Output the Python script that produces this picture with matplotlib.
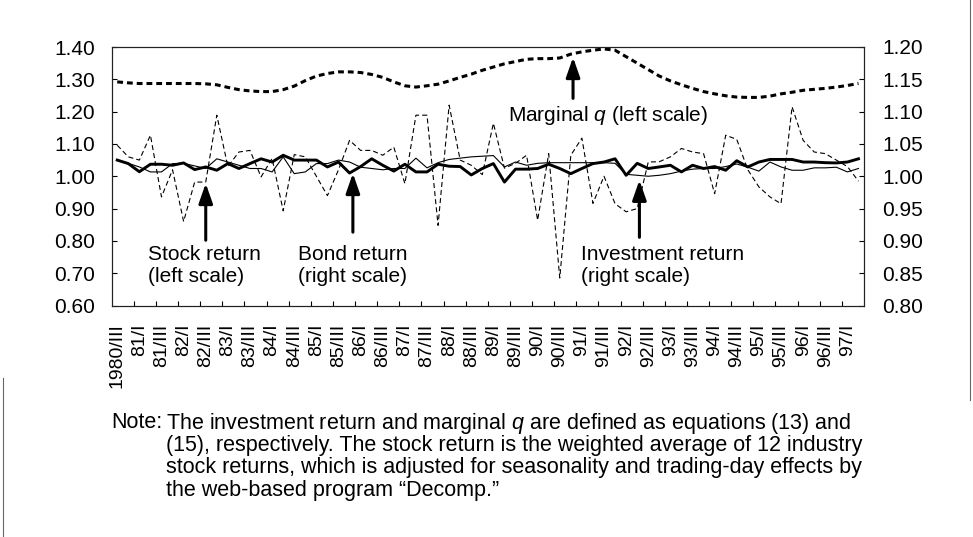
import numpy as np
import matplotlib
matplotlib.use("Agg")
import matplotlib.pyplot as plt
from matplotlib.lines import Line2D

plt.rcParams['font.family'] = ['Liberation Sans', 'DejaVu Sans']
plt.rcParams['mathtext.fontset'] = 'custom'
plt.rcParams['mathtext.it'] = 'Liberation Sans:italic'
plt.rcParams['mathtext.rm'] = 'Liberation Sans'

# quarterly data, 1980/III - 1997/II
marginal_q = [1.292, 1.289, 1.287, 1.287, 1.287, 1.287, 1.287, 1.287, 1.286, 1.283,
              1.275, 1.268, 1.264, 1.262, 1.262, 1.268, 1.279, 1.296, 1.310, 1.318,
              1.323, 1.323, 1.321, 1.315, 1.306, 1.292, 1.280, 1.276, 1.280, 1.285,
              1.295, 1.306, 1.316, 1.328, 1.338, 1.348, 1.355, 1.362, 1.364, 1.364,
              1.366, 1.378, 1.385, 1.390, 1.394, 1.390, 1.370, 1.350, 1.330, 1.310,
              1.295, 1.283, 1.272, 1.262, 1.255, 1.249, 1.245, 1.244, 1.244, 1.248,
              1.255, 1.260, 1.266, 1.269, 1.272, 1.276, 1.281, 1.287]

stock_return = [1.096, 1.060, 1.050, 1.127, 0.936, 1.020, 0.860, 0.982, 0.982, 1.189,
                1.030, 1.075, 1.080, 0.998, 1.055, 0.893, 1.067, 1.060, 1.000, 0.940,
                1.020, 1.111, 1.080, 1.080, 1.065, 1.090, 0.977, 1.189, 1.189, 0.848,
                1.220, 1.050, 1.034, 1.005, 1.164, 1.025, 1.040, 1.065, 0.864, 1.070,
                0.685, 1.065, 1.118, 0.916, 1.000, 0.915, 0.890, 0.900, 1.044, 1.045,
                1.060, 1.086, 1.075, 1.070, 0.946, 1.127, 1.114, 1.020, 0.967, 0.936,
                0.915, 1.215, 1.111, 1.075, 1.070, 1.050, 1.030, 0.985]

bond_return = [1.025, 1.0196, 1.007, 1.0186, 1.0186, 1.017, 1.0206, 1.0103, 1.0144, 1.0093,
               1.0196, 1.012, 1.0196, 1.027, 1.022, 1.0325, 1.025, 1.025, 1.025, 1.0144,
               1.022, 1.005, 1.015, 1.027, 1.017, 1.008, 1.0186, 1.0067, 1.0067, 1.0186,
               1.0155, 1.015, 1.002, 1.012, 1.0196, 0.991, 1.011, 1.011, 1.012, 1.0186,
               1.012, 1.004, 1.012, 1.0196, 1.022, 1.027, 1.0015, 1.020, 1.012, 1.0144,
               1.017, 1.0067, 1.017, 1.012, 1.015, 1.0093, 1.024, 1.0144, 1.022, 1.026,
               1.026, 1.026, 1.022, 1.022, 1.021, 1.0206, 1.022, 1.027]

invest_return = [1.025, 1.020, 1.0144, 1.0067, 1.0067, 1.0196, 1.020, 1.016, 1.012, 1.027,
                 1.022, 1.017, 1.012, 1.012, 1.0067, 1.030, 1.004, 1.0067, 1.0196, 1.0196,
                 1.025, 1.022, 1.014, 1.012, 1.010, 1.012, 1.012, 1.028, 1.013, 1.021,
                 1.026, 1.028, 1.030, 1.031, 1.032, 1.0144, 1.022, 1.017, 1.020, 1.021,
                 1.021, 1.021, 1.021, 1.021, 1.021, 1.020, 1.003, 1.0015, 1.000, 1.0015,
                 1.004, 1.008, 1.011, 1.012, 1.012, 1.015, 1.019, 1.014, 1.008, 1.022,
                 1.0144, 1.0093, 1.0093, 1.013, 1.013, 1.014, 1.0067, 1.012]

tick_labels = ['1980/III', '81/I', '81/III', '82/I', '82/III', '83/I', '83/III',
               '84/I', '84/III', '85/I', '85/III', '86/I', '86/III', '87/I', '87/III',
               '88/I', '88/III', '89/I', '89/III', '90/I', '90/III', '91/I', '91/III',
               '92/I', '92/III', '93/I', '93/III', '94/I', '94/III', '95/I', '95/III',
               '96/I', '96/III', '97/I']

note_lines = ['The investment return and marginal $q$ are defined as equations (13) and',
              '(15), respectively. The stock return is the weighted average of 12 industry',
              'stock returns, which is adjusted for seasonality and trading-day effects by',
              'the web-based program \u201cDecomp.\u201d']

W, H = 973, 537
fig = plt.figure(figsize=(W / 100, H / 100), dpi=100)
ax = fig.add_axes([111.7 / W, 1 - 305.5 / H, (864 - 111.7) / W, (305.5 - 47) / H])
ax2 = ax.twinx()

x = np.arange(len(marginal_q))

ax.plot(x, marginal_q, color='black', lw=2.2, dashes=(1.9, 1.3))
ax.plot(x, stock_return, color='black', lw=0.8, dashes=(4.5, 2.8))
ax2.plot(x, bond_return, color='black', lw=2.1)
ax2.plot(x, invest_return, color='black', lw=0.8)

ax.set_xlim(-0.5, len(x) - 0.5)
ax.set_ylim(0.6, 1.4)
ax2.set_ylim(0.8, 1.2)
ax.set_yticks(np.arange(0.6, 1.401, 0.1))
ax2.set_yticks(np.arange(0.8, 1.201, 0.05))
ax.yaxis.set_major_formatter(plt.FormatStrFormatter('%.2f'))
ax2.yaxis.set_major_formatter(plt.FormatStrFormatter('%.2f'))

ax.set_xticks(x[::2])
ax.set_xticklabels(tick_labels, rotation=90, fontsize=14)
ax.set_xticks(np.arange(1.5, len(x) - 2, 2), minor=True)
ax.tick_params(axis='x', which='major', length=0, pad=13)
ax.tick_params(axis='x', which='minor', direction='in', length=3.8, width=0.8)
ax.tick_params(axis='y', direction='in', length=3.8, width=0.8, labelsize=15, pad=12)
ax2.tick_params(axis='y', direction='in', length=3.8, width=0.8, labelsize=15, pad=13)

for a in (ax, ax2):
    for s in a.spines.values():
        s.set_linewidth(0.8)
        s.set_color('#222222')

arrow = dict(arrowstyle='-|>,head_length=1.0,head_width=0.35', lw=2.2,
             color='black', mutation_scale=12, shrinkA=0, shrinkB=0)
txt = dict(fontsize=15, ha='left', va='center', linespacing=1.15)

# marginal q
ax.annotate('', xy=(41.2, 1.368), xytext=(41.2, 1.241), arrowprops=arrow)
ax.text(35.3, 1.189, 'Marginal $q$ (left scale)', **txt)
# stock return
ax.annotate('', xy=(8.0, 0.978), xytext=(8.0, 0.802), arrowprops=arrow)
ax.text(2.75, 0.724, 'Stock return\n(left scale)', **txt)
# bond return
ax.annotate('', xy=(21.3, 1.009), xytext=(21.3, 0.827), arrowprops=arrow)
ax.text(16.3, 0.724, 'Bond return\n(right scale)', **txt)
# investment return
ax.annotate('', xy=(47.2, 0.988), xytext=(47.2, 0.811), arrowprops=arrow)
ax.text(41.9, 0.724, 'Investment return\n(right scale)', **txt)

# note below the chart
fig.text(111 / W, 1 - 423 / H, 'Note:', fontsize=15.5, ha='left', va='center')
for k, line in enumerate(note_lines):
    fig.text(166 / W, 1 - (423 + 22.5 * k) / H, line, fontsize=15.5, ha='left', va='center')

# page frame fragments
fig.add_artist(Line2D([970 / W, 970 / W], [1, 1 - 400 / H], transform=fig.transFigure,
                      color='#666666', lw=0.8))
fig.add_artist(Line2D([3 / W, 3 / W], [1 - 378 / H, 0], transform=fig.transFigure,
                      color='#666666', lw=0.8))

fig.savefig('out.png', dpi=100)
